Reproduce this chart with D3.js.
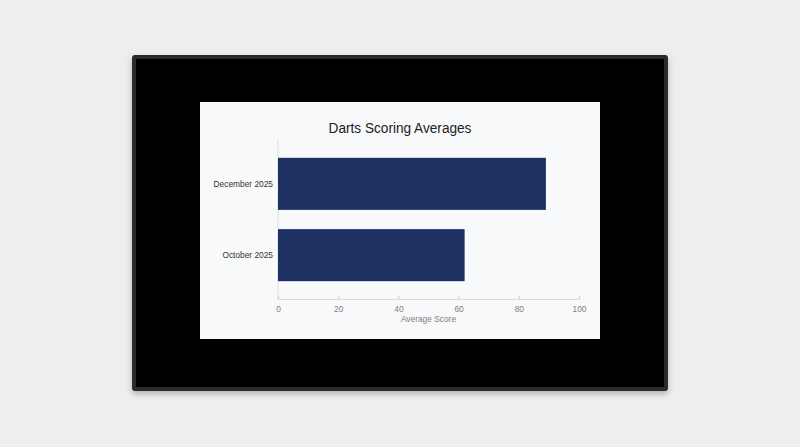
<!DOCTYPE html>
<html>
<head>
<meta charset="utf-8">
<script src="https://cdn.jsdelivr.net/npm/d3@7"></script>
<style>
  html, body { margin: 0; padding: 0; background: #eeeeee; }
  svg { display: block; font-family: "Liberation Sans", Arial, sans-serif; }
</style>
</head>
<body>
<script>
var width = 800;
var height = 447;
// the screen content looks a bit narrower than normal type
var squeeze = 0.88;

// chart data
var months = ['December 2025', 'October 2025'];
var averages = [89, 62];
var xTicks = [0, 20, 40, 60, 80, 100];
var chartTitle = 'Darts Scoring Averages';
var xLabel = 'Average Score';

function placeText(sel, x, y) {
  return sel.attr('transform', 'translate(' + x + ',' + y + ') scale(' + squeeze + ',1)');
}

var svg = d3.select('body').append('svg')
  .attr('width', width)
  .attr('height', height);

var defs = svg.append('defs');
var shadow = defs.append('filter').attr('id', 'tvShadow')
  .attr('x', '-10%').attr('y', '-10%').attr('width', '120%').attr('height', '130%');
shadow.append('feDropShadow')
  .attr('dx', 0).attr('dy', 3).attr('stdDeviation', 3)
  .attr('flood-color', '#000').attr('flood-opacity', 0.25);

// tv bezel
svg.append('rect')
  .attr('x', 132).attr('y', 55)
  .attr('width', 536).attr('height', 336)
  .attr('rx', 3)
  .attr('fill', '#2b2b2b')
  .attr('filter', 'url(#tvShadow)');
svg.append('rect')
  .attr('x', 136).attr('y', 59)
  .attr('width', 528).attr('height', 328)
  .attr('fill', '#000');

// screen
svg.append('rect')
  .attr('x', 200).attr('y', 102)
  .attr('width', 400).attr('height', 237)
  .attr('fill', '#f8f9fa');

var x = d3.scaleLinear().domain([0, 100]).range([278, 579]);
var y = d3.scaleBand().domain(months).range([140, 299])
  .paddingInner(0.27).paddingOuter(0.25);

svg.append('text')
  .call(placeText, 400, 133)
  .attr('text-anchor', 'middle')
  .attr('font-size', 15.5)
  .attr('fill', '#222')
  .text(chartTitle);

// y axis line
svg.append('line')
  .attr('x1', 278).attr('x2', 278)
  .attr('y1', 140).attr('y2', 299)
  .attr('stroke', '#dcdcdc');

svg.selectAll('.bar')
  .data(months)
  .enter().append('rect')
  .attr('class', 'bar')
  .attr('x', x(0))
  .attr('y', function (d) { return y(d); })
  .attr('width', function (d, i) { return x(averages[i]) - x(0); })
  .attr('height', y.bandwidth())
  .attr('fill', '#1d3263');

svg.selectAll('.ylab')
  .data(months)
  .enter().append('text')
  .attr('class', 'ylab')
  .each(function (d) { placeText(d3.select(this), 273, y(d) + y.bandwidth() / 2); })
  .attr('dy', '0.35em')
  .attr('text-anchor', 'end')
  .attr('font-size', 9.5)
  .attr('fill', '#333')
  .text(function (d) { return d; });

var xAxis = svg.append('g')
  .attr('transform', 'translate(0,299)')
  .call(d3.axisBottom(x).tickValues(xTicks).tickSize(-3).tickPadding(6));
xAxis.select('.domain').attr('stroke', '#dcdcdc');
xAxis.selectAll('.tick line').attr('stroke', '#d0d0d0');
xAxis.selectAll('.tick text')
  .attr('transform', 'scale(' + squeeze + ',1)')
  .attr('font-size', 9.5)
  .attr('fill', '#808080')
  .attr('font-family', '"Liberation Sans", Arial, sans-serif');

svg.append('text')
  .call(placeText, (x(0) + x(100)) / 2, 322)
  .attr('text-anchor', 'middle')
  .attr('font-size', 9.5)
  .attr('fill', '#808080')
  .text(xLabel);
</script>
</body>
</html>
